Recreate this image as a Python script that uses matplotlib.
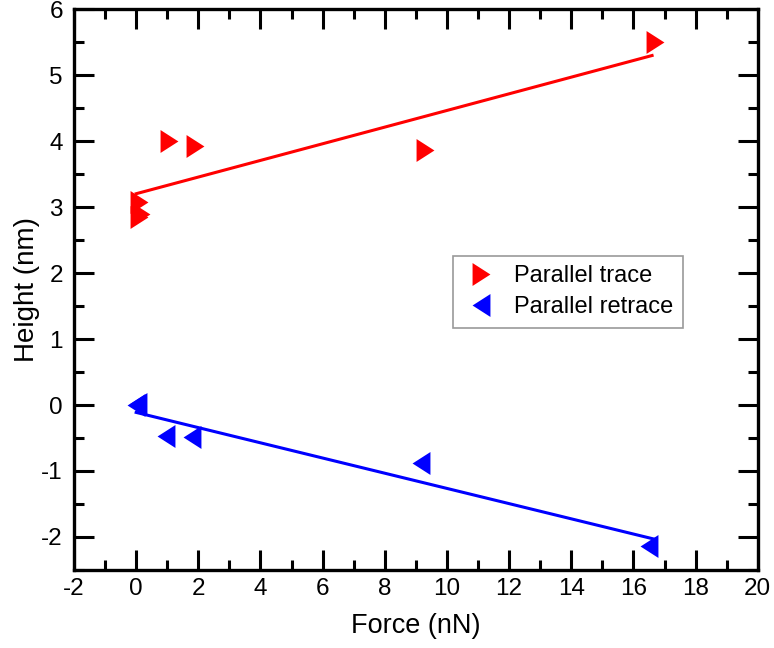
import numpy as np
import matplotlib
matplotlib.use("Agg")
import matplotlib.pyplot as plt
from matplotlib.ticker import MultipleLocator

plt.rcParams['font.family'] = ['Liberation Sans', 'DejaVu Sans']
plt.rcParams['axes.unicode_minus'] = False

# Data
trace_force = [0.10, 0.15, 0.10, 1.05, 1.90, 9.30, 16.70]
trace_height = [3.08, 2.89, 2.85, 4.00, 3.92, 3.87, 5.50]
retrace_force = [0.00, 0.05, 0.95, 1.80, 9.15, 16.50]
retrace_height = [0.00, 0.02, -0.47, -0.48, -0.88, -2.14]

xticks = [-2, 0, 2, 4, 6, 8, 10, 12, 14, 16, 18, 20]
yticks = [-2, -1, 0, 1, 2, 3, 4, 5, 6]

fig = plt.figure(figsize=(7.74, 6.48), dpi=100)
ax = fig.add_axes([0.0956, 0.1204, 0.9835 - 0.0956 - 0.0045, 0.986 - 0.1204])

right_tri = [(-0.78, -1), (0.78, 0), (-0.78, 1), (-0.78, -1)]
left_tri = [(0.78, -1), (-0.78, 0), (0.78, 1), (0.78, -1)]

tx = np.array(trace_force); ty = np.array(trace_height)
rx = np.array(retrace_force); ry = np.array(retrace_height)

pt = np.polyfit(tx, ty, 1)
pr = np.polyfit(rx, ry, 1)
xt = np.array([0.0, 16.6])
xr = np.array([0.0, 16.7])
ax.plot(xt, np.polyval(pt, xt), color='#ff0000', lw=2.2, zorder=2)
ax.plot(xr, np.polyval(pr, xr), color='#0000ff', lw=2.2, zorder=2)

ax.plot(tx, ty, linestyle='none', marker=right_tri, markersize=16.5,
        color='#ff0000', markeredgewidth=0, label='Parallel trace', zorder=3)
ax.plot(rx, ry, linestyle='none', marker=left_tri, markersize=16.5,
        color='#0000ff', markeredgewidth=0, label='Parallel retrace', zorder=3)

ax.set_xlim(-2, 20)
ax.set_ylim(-2.5, 6)
ax.set_xticks(xticks)
ax.set_yticks(yticks)
ax.xaxis.set_minor_locator(MultipleLocator(1))
ax.yaxis.set_minor_locator(MultipleLocator(0.5))
ax.tick_params(which='both', direction='in', top=True, right=True, width=2.2,
               labelsize=17.5, colors='black')
ax.tick_params(axis='x', pad=6)
ax.tick_params(axis='y', pad=8)
ax.tick_params(which='major', length=14.4)
ax.tick_params(which='minor', length=7.2)
for s in ax.spines.values():
    s.set_linewidth(2.4)

ax.set_xlabel('Force (nN)', fontsize=19.5, labelpad=9)
ax.set_ylabel('Height (nm)', fontsize=20, va='center')
ax.yaxis.set_label_coords(-0.068, 0.5)

leg = ax.legend(loc='upper left', bbox_to_anchor=(0.554, 0.56), borderaxespad=0,
                fancybox=False, edgecolor='#808080', fontsize=17, frameon=True,
                handletextpad=0.6, borderpad=0.4, labelspacing=0.38, handlelength=1.6)
leg.get_frame().set_linewidth(1.2)

fig.savefig('out.png', dpi=100)
